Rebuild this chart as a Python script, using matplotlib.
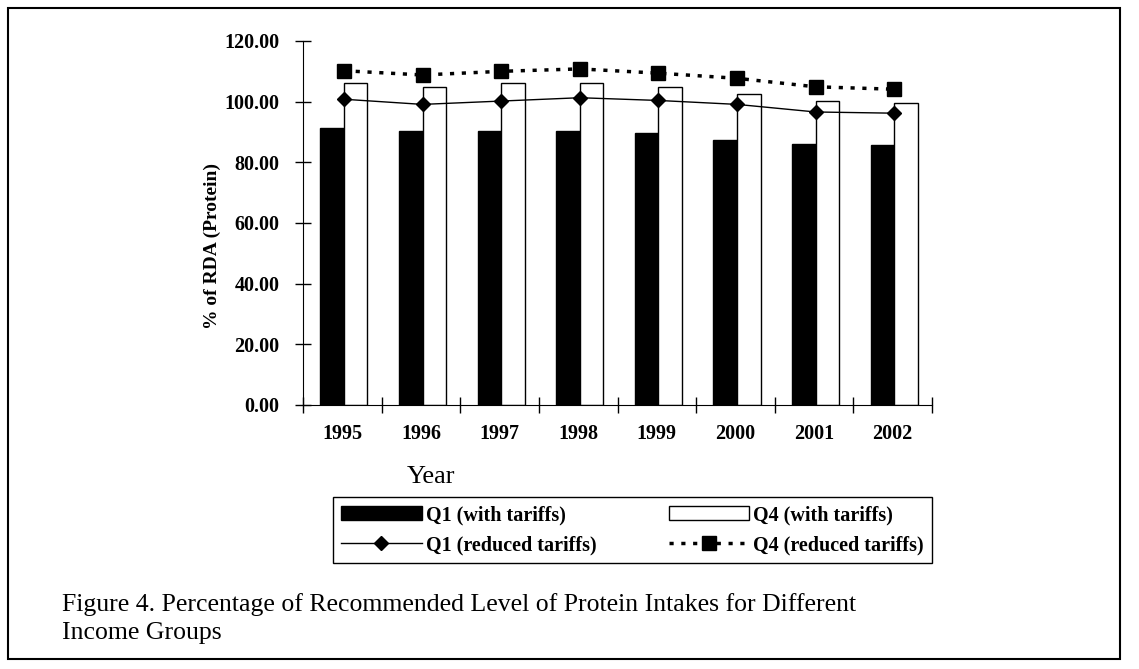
import matplotlib
matplotlib.use("Agg")
import matplotlib.pyplot as plt
import numpy as np
from matplotlib.patches import Rectangle
from matplotlib.lines import Line2D

plt.rcParams['font.family'] = ['Liberation Serif', 'DejaVu Serif']

years = ['1995', '1996', '1997', '1998', '1999', '2000', '2001', '2002']
q1_with = [91.3, 90.2, 90.4, 90.4, 89.6, 87.4, 86.1, 85.6]
q4_with = [106.0, 105.0, 106.1, 106.3, 105.0, 102.4, 100.2, 99.7]
q1_reduced = [100.8, 99.1, 100.2, 101.3, 100.4, 99.1, 96.6, 96.2]
q4_reduced = [110.2, 108.8, 110.0, 110.8, 109.4, 107.7, 104.9, 104.1]

W, H = 1139, 669
fig = plt.figure(figsize=(W / 100, H / 100), dpi=100)
ax = fig.add_axes([303 / W, 1 - 405 / H, (932 - 303) / W, (405 - 41) / H])

x = np.arange(len(years))
bw = 0.3
dots = (0, (1.2, 2.2))
ax.bar(x - 0.13, q1_with, width=bw, color='black', edgecolor='black', linewidth=1)
ax.bar(x + 0.17, q4_with, width=bw, color='white', edgecolor='black', linewidth=1)
ax.plot(x + 0.02, q1_reduced, color='black', lw=1, marker='D', markersize=7, zorder=3)
ax.plot(x + 0.02, q4_reduced, color='black', lw=2.5, linestyle=dots,
        marker='s', markersize=10, zorder=3)

ax.set_xlim(-0.5, len(years) - 0.5)
ax.set_ylim(0, 120)
yt = np.arange(0, 121, 20)
ax.set_yticks(yt)
ax.set_yticklabels([f"{v:.2f}" for v in yt], fontweight='bold', fontsize=14.5)
ax.set_xticks(x)
ax.set_xticklabels(years, fontweight='bold', fontsize=14.5)
ax.set_xticks(np.arange(-0.5, len(years)), minor=True)
ax.tick_params(axis='x', which='major', length=0, pad=14)
ax.tick_params(axis='x', which='minor', length=12, direction='inout', width=1)
ax.tick_params(axis='y', length=12, direction='inout', width=1, pad=11)
for s in ['top', 'right']:
    ax.spines[s].set_visible(False)

fig.text(212 / W, 1 - 246 / H, '% of RDA (Protein)', fontweight='bold', fontsize=14,
         rotation=90, ha='center', va='center')
fig.text(431 / W, 1 - 477 / H, 'Year', fontsize=19, ha='center', va='center')

handles = [
    Rectangle((0, 0), 1, 1, facecolor='black', edgecolor='black'),
    Line2D([], [], color='black', lw=1, marker='D', markersize=7),
    Rectangle((0, 0), 1, 1, facecolor='white', edgecolor='black'),
    Line2D([], [], color='black', lw=2.5, linestyle=dots, marker='s', markersize=10),
]
labels = ['Q1 (with tariffs)', 'Q1 (reduced tariffs)', 'Q4 (with tariffs)', 'Q4 (reduced tariffs)']
leg = fig.legend(handles, labels, ncol=2, loc='upper left',
                 bbox_to_anchor=(333 / W, 1 - 562 / H, (932 - 333) / W, (562 - 497) / H),
                 mode='expand', fancybox=False, edgecolor='black', framealpha=1,
                 prop={'weight': 'bold', 'size': 14.5}, handlelength=4.0, handleheight=0.65,
                 borderpad=0.4, labelspacing=0.5, handletextpad=0.2, borderaxespad=0)
leg.get_frame().set_linewidth(1)

fig.text(62 / W, 1 - 605 / H,
         'Figure 4. Percentage of Recommended Level of Protein Intakes for Different',
         fontsize=18.5, ha='left', va='center')
fig.text(62 / W, 1 - 633 / H, 'Income Groups', fontsize=18.5, ha='left', va='center')

fig.patches.append(Rectangle((8 / W, 1 - 659 / H), (1120 - 8) / W, (659 - 8) / H,
                             transform=fig.transFigure, fill=False, edgecolor='black', lw=1.5))

fig.savefig('out.png', dpi=100)
